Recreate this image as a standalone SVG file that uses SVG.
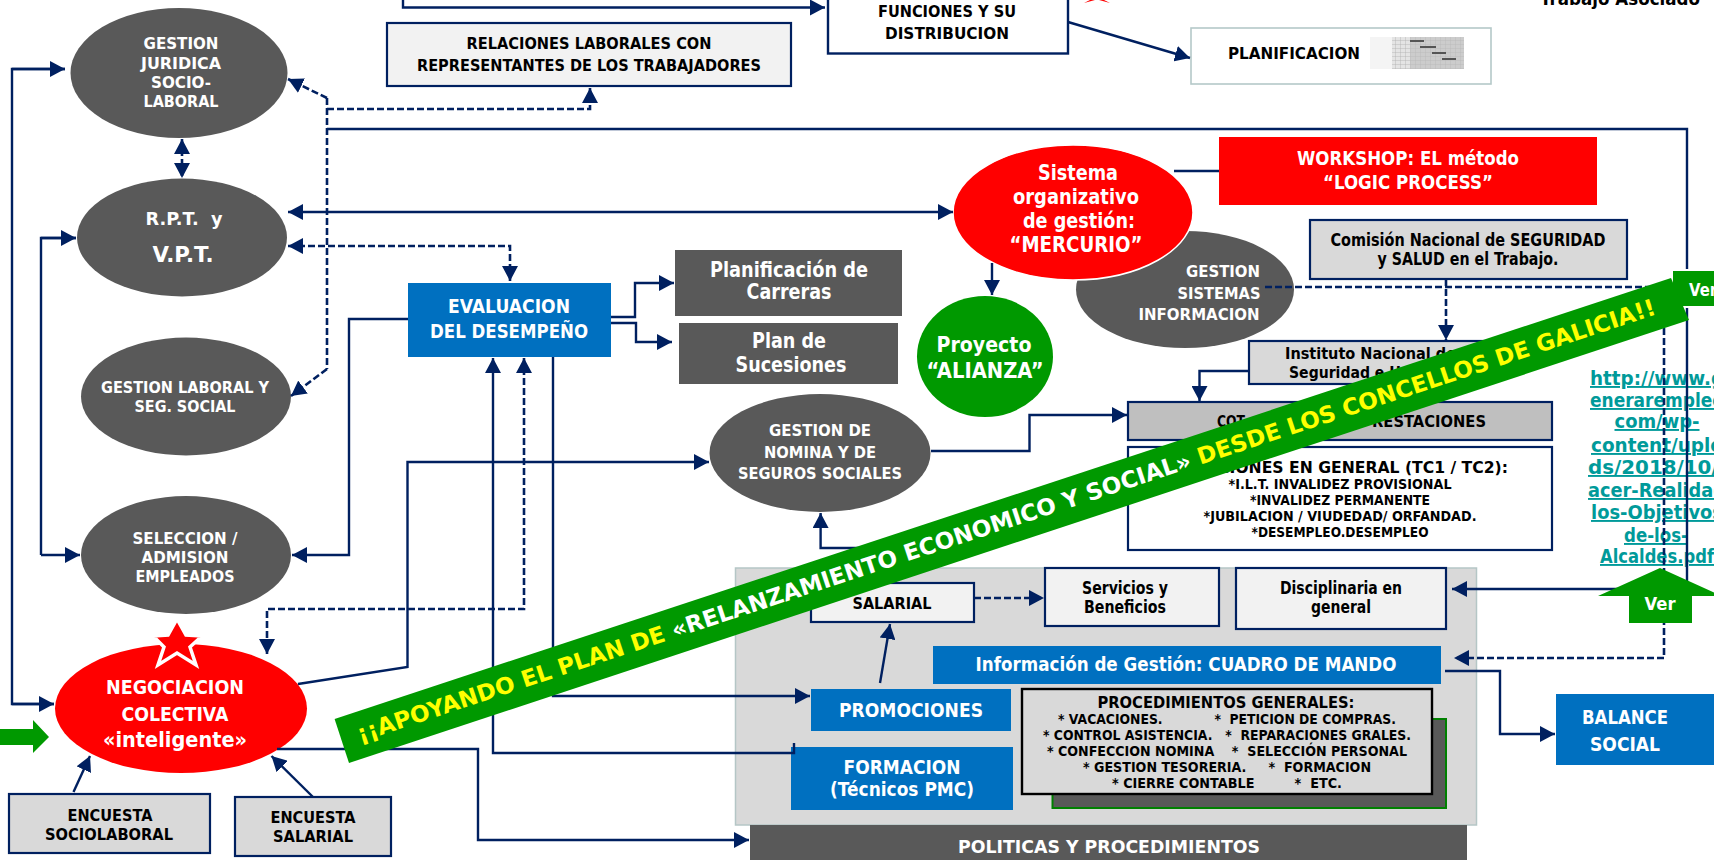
<svg xmlns="http://www.w3.org/2000/svg" width="1714" height="860" viewBox="0 0 1714 860">
<style>
text{font-family:"DejaVu Sans","Liberation Sans",sans-serif;font-weight:700;text-anchor:middle;white-space:pre}
.w{fill:#fff}.k{fill:#000}
.s14{font-size:14px}.s15{font-size:15px}.s16{font-size:16px}.s17{font-size:17px}.s18{font-size:18px}.s19{font-size:19px}.s20{font-size:20px}.s21{font-size:21px}.s22{font-size:22px}
.dk{fill:#595959}.red{fill:#f00}.blue{fill:#0070c0}.grn{fill:#090}
.lg{fill:#d9d9d9;stroke:#002060;stroke-width:2.2}
.wh{fill:#f2f2f2;stroke:#002060;stroke-width:2.2}
.c{fill:none;stroke:#002060;stroke-width:2.4}
.d{stroke-dasharray:7 3;stroke-width:2.6}
.e{marker-end:url(#ah)}
.b{marker-start:url(#ah);marker-end:url(#ah)}
.lk{fill:#009a9a;font-size:19px;text-decoration:underline}
</style>
<defs>
<marker id="ah" markerUnits="userSpaceOnUse" markerWidth="16" markerHeight="16" refX="15" refY="8" orient="auto-start-reverse"><path d="M0 0L15 8L0 16Z" fill="#002060"/></marker>
<pattern id="grid" width="5" height="4" patternUnits="userSpaceOnUse"><rect width="5" height="4" fill="#e4e4e4"/><path d="M0 0H5M0 0V4" stroke="#a8a8a8" stroke-width="0.7"/></pattern>
</defs>
<rect width="1714" height="860" fill="#fff"/>

<g id="panel"><rect x="735.5" y="568" width="741" height="257" fill="#d9d9d9" stroke="#b5c6c6" stroke-width="1.5"/></g>

<g id="gestion-juridica"><ellipse cx="179" cy="73" rx="108.5" ry="65" class="dk"/>
<text class="w s16" x="181" y="49" textLength="75" lengthAdjust="spacingAndGlyphs">GESTION</text>
<text class="w s16" x="181" y="69" textLength="80" lengthAdjust="spacingAndGlyphs">JURIDICA</text>
<text class="w s16" x="181" y="88" textLength="60" lengthAdjust="spacingAndGlyphs">SOCIO-</text>
<text class="w s16" x="181" y="107" textLength="75" lengthAdjust="spacingAndGlyphs">LABORAL</text></g>

<g id="relaciones"><rect x="387" y="23" width="404" height="63" class="wh"/>
<text class="k s16" x="589" y="49" textLength="245" lengthAdjust="spacingAndGlyphs">RELACIONES LABORALES CON</text>
<text class="k s16" x="589" y="71" textLength="344" lengthAdjust="spacingAndGlyphs">REPRESENTANTES DE LOS TRABAJADORES</text></g>

<g id="funciones"><rect x="828" y="-20" width="240" height="73.5" fill="#fff" stroke="#002060" stroke-width="2.4"/>
<text class="k s16" x="947" y="17" textLength="138" lengthAdjust="spacingAndGlyphs">FUNCIONES Y SU</text>
<text class="k s16" x="947" y="39" textLength="124" lengthAdjust="spacingAndGlyphs">DISTRIBUCION</text></g>

<g id="estrella-superior"><polygon points="1084,3 1090,0 1095,0" class="red"/><polygon points="1110,3 1104,0 1099,0" class="red"/></g>

<g id="trabajo-asociado"><text class="k s18" x="1620" y="5" textLength="160" lengthAdjust="spacingAndGlyphs">Trabajo Asociado</text></g>

<g id="planificacion"><rect x="1191" y="28" width="300" height="56" fill="#fff" stroke="#b5c9c9" stroke-width="1.6"/>
<text class="k s16" x="1294" y="59" textLength="132" lengthAdjust="spacingAndGlyphs">PLANIFICACION</text>
<rect x="1370" y="37" width="94" height="32" fill="url(#grid)"/><rect x="1370" y="37" width="22" height="32" fill="#f4f4f4"/><rect x="1410" y="37" width="54" height="32" fill="#bdbdbd" opacity=".6"/>
<path d="M1410 41H1424M1420 47H1436M1432 53H1446M1442 59H1456" stroke="#555" stroke-width="2"/></g>

<g id="rpt"><ellipse cx="182" cy="237.5" rx="105" ry="59" class="dk"/>
<text class="w s18" x="184" y="225" textLength="77" lengthAdjust="spacingAndGlyphs">R.P.T.  y</text>
<text class="w s21" x="183" y="262" textLength="61" lengthAdjust="spacingAndGlyphs">V.P.T.</text></g>

<g id="evaluacion"><rect x="408" y="283" width="203" height="74" class="blue"/>
<text class="w s20" x="509" y="313" textLength="122" lengthAdjust="spacingAndGlyphs">EVALUACION</text>
<text class="w s20" x="509" y="338" textLength="158" lengthAdjust="spacingAndGlyphs">DEL DESEMPEÑO</text></g>

<g id="carreras"><rect x="675" y="250" width="227" height="66" class="dk"/>
<text class="w s21" x="789" y="277" textLength="158" lengthAdjust="spacingAndGlyphs">Planificación de</text>
<text class="w s21" x="789" y="299" textLength="85" lengthAdjust="spacingAndGlyphs">Carreras</text></g>

<g id="sucesiones"><rect x="679" y="323" width="219" height="61" class="dk"/>
<text class="w s21" x="789" y="348" textLength="74" lengthAdjust="spacingAndGlyphs">Plan de</text>
<text class="w s21" x="791" y="372" textLength="111" lengthAdjust="spacingAndGlyphs">Sucesiones</text></g>

<g id="gestion-laboral"><ellipse cx="186" cy="396.5" rx="105" ry="59" class="dk"/>
<text class="w s16" x="185" y="393" textLength="168" lengthAdjust="spacingAndGlyphs">GESTION LABORAL Y</text>
<text class="w s16" x="185" y="412" textLength="101" lengthAdjust="spacingAndGlyphs">SEG. SOCIAL</text></g>

<g id="seleccion"><ellipse cx="186" cy="555" rx="105" ry="59" class="dk"/>
<text class="w s16" x="185" y="544" textLength="105" lengthAdjust="spacingAndGlyphs">SELECCION /</text>
<text class="w s16" x="185" y="563" textLength="87" lengthAdjust="spacingAndGlyphs">ADMISION</text>
<text class="w s16" x="185" y="582" textLength="99" lengthAdjust="spacingAndGlyphs">EMPLEADOS</text></g>

<g id="negociacion"><ellipse cx="181" cy="708.5" rx="126" ry="64.5" class="red"/>
<polygon points="177,619 186,635 202,636 190,647 196,665 177,653 158,665 164,647 153,636 168,635" class="red" stroke="#fff" stroke-width="3.5" stroke-miterlimit="10"/>
<text class="w s20" x="175" y="694" textLength="138" lengthAdjust="spacingAndGlyphs">NEGOCIACION</text>
<text class="w s20" x="175" y="721" textLength="107" lengthAdjust="spacingAndGlyphs">COLECTIVA</text>
<text class="w s21" x="175" y="747" textLength="144" lengthAdjust="spacingAndGlyphs">«inteligente»</text></g>

<g id="flecha-verde"><polygon points="0,729 33,729 33,720 49,737 33,753 33,745 0,745" class="grn"/></g>

<g id="encuesta-socio"><rect x="9" y="794" width="201" height="59" class="lg"/>
<text class="k s16" x="110" y="821" textLength="85" lengthAdjust="spacingAndGlyphs">ENCUESTA</text>
<text class="k s16" x="109" y="840" textLength="128" lengthAdjust="spacingAndGlyphs">SOCIOLABORAL</text></g>

<g id="encuesta-salarial"><rect x="235" y="797" width="156" height="59" class="lg"/>
<text class="k s16" x="313" y="823" textLength="85" lengthAdjust="spacingAndGlyphs">ENCUESTA</text>
<text class="k s16" x="313" y="842" textLength="80" lengthAdjust="spacingAndGlyphs">SALARIAL</text></g>

<g id="nomina"><ellipse cx="820" cy="453" rx="110.5" ry="59" class="dk"/>
<text class="w s16" x="820" y="436" textLength="102" lengthAdjust="spacingAndGlyphs">GESTION DE</text>
<text class="w s16" x="820" y="458" textLength="112" lengthAdjust="spacingAndGlyphs">NOMINA Y DE</text>
<text class="w s16" x="820" y="479" textLength="164" lengthAdjust="spacingAndGlyphs">SEGUROS SOCIALES</text></g>

<g id="gestion-sistemas"><ellipse cx="1185" cy="289.5" rx="109" ry="58.5" class="dk"/>
<text class="w s16" x="1223" y="277" textLength="74" lengthAdjust="spacingAndGlyphs">GESTION</text>
<text class="w s16" x="1219" y="299" textLength="83" lengthAdjust="spacingAndGlyphs">SISTEMAS</text>
<text class="w s16" x="1199" y="320" textLength="121" lengthAdjust="spacingAndGlyphs">INFORMACION</text></g>

<g id="mercurio"><ellipse cx="1073" cy="212.5" rx="120" ry="67.5" class="red" stroke="#fff" stroke-width="1.5"/>
<text class="w s22" x="1078" y="180" textLength="80" lengthAdjust="spacingAndGlyphs">Sistema</text>
<text class="w s22" x="1076" y="204" textLength="126" lengthAdjust="spacingAndGlyphs">organizativo</text>
<text class="w s22" x="1079" y="228" textLength="112" lengthAdjust="spacingAndGlyphs">de gestión:</text>
<text class="w s22" x="1076" y="252" textLength="133" lengthAdjust="spacingAndGlyphs">“MERCURIO”</text></g>

<g id="alianza"><ellipse cx="985" cy="356.5" rx="68" ry="60.5" class="grn"/>
<text class="w s22" x="984" y="352" textLength="95" lengthAdjust="spacingAndGlyphs">Proyecto</text>
<text class="w s22" x="985" y="378" textLength="117" lengthAdjust="spacingAndGlyphs">“ALIANZA”</text></g>

<g id="workshop"><rect x="1219" y="137" width="378" height="68" class="red"/>
<text class="w s20" x="1408" y="165" textLength="222" lengthAdjust="spacingAndGlyphs">WORKSHOP: EL método</text>
<text class="w s20" x="1408" y="189" textLength="170" lengthAdjust="spacingAndGlyphs">“LOGIC PROCESS”</text></g>

<g id="comision"><rect x="1310" y="220" width="317" height="59" class="lg"/>
<text class="k s17" x="1468" y="246" textLength="275" lengthAdjust="spacingAndGlyphs">Comisión Nacional de SEGURIDAD</text>
<text class="k s17" x="1468" y="265" textLength="181" lengthAdjust="spacingAndGlyphs">y SALUD en el Trabajo.</text></g>

<g id="instituto"><rect x="1249" y="341" width="239" height="43" class="lg"/>
<text class="k s16" x="1370.5" y="359" textLength="171" lengthAdjust="spacingAndGlyphs">Instituto Nacional de</text>
<text class="k s16" x="1345" y="378" textLength="112" lengthAdjust="spacingAndGlyphs">Seguridad e H</text></g>

<g id="cotizaciones"><rect x="1128" y="402" width="424" height="38" fill="#bfbfbf" stroke="#002060" stroke-width="2.2"/>
<text class="k s16" x="1231" y="427" textLength="28" lengthAdjust="spacingAndGlyphs">COT</text>
<text class="k s16" x="1429" y="427" textLength="114" lengthAdjust="spacingAndGlyphs">RESTACIONES</text></g>

<g id="prestaciones"><rect x="1128" y="447" width="424" height="103" fill="#fff" stroke="#002060" stroke-width="2.2"/>
<text class="k s16" x="1363" y="473" textLength="290" lengthAdjust="spacingAndGlyphs">CIONES EN GENERAL (TC1 / TC2):</text>
<text class="k s14" x="1340" y="489" textLength="223" lengthAdjust="spacingAndGlyphs">*I.L.T. INVALIDEZ PROVISIONAL</text>
<text class="k s14" x="1340" y="505" textLength="180" lengthAdjust="spacingAndGlyphs">*INVALIDEZ PERMANENTE</text>
<text class="k s14" x="1340" y="521" textLength="273" lengthAdjust="spacingAndGlyphs">*JUBILACION / VIUDEDAD/ ORFANDAD.</text>
<text class="k s14" x="1340" y="537" textLength="177" lengthAdjust="spacingAndGlyphs">*DESEMPLEO.DESEMPLEO</text></g>

<g id="enlace">
<text class="lk" x="1657" y="385" textLength="134" lengthAdjust="spacingAndGlyphs">http://www.g</text>
<text class="lk" x="1657" y="407" textLength="134" lengthAdjust="spacingAndGlyphs">enerarempleo</text>
<text class="lk" x="1657" y="428" textLength="85" lengthAdjust="spacingAndGlyphs">com/wp-</text>
<text class="lk" x="1657" y="452" textLength="132" lengthAdjust="spacingAndGlyphs">content/uplo</text>
<text class="lk" x="1657" y="474" textLength="138" lengthAdjust="spacingAndGlyphs">ds/2018/10/I</text>
<text class="lk" x="1657" y="497" textLength="138" lengthAdjust="spacingAndGlyphs">acer-Realidad</text>
<text class="lk" x="1657" y="519" textLength="132" lengthAdjust="spacingAndGlyphs">los-Objetivos</text>
<text class="lk" x="1656" y="542" textLength="64" lengthAdjust="spacingAndGlyphs">de-los-</text>
<text class="lk" x="1657" y="563" textLength="114" lengthAdjust="spacingAndGlyphs">Alcaldes.pdf</text></g>

<g id="salarial"><rect x="811" y="583" width="163" height="39" class="wh"/>
<text class="k s16" x="892" y="609" textLength="79" lengthAdjust="spacingAndGlyphs">SALARIAL</text></g>

<g id="servicios"><rect x="1045" y="568" width="174" height="58" class="wh"/>
<text class="k s17" x="1125" y="594" textLength="86" lengthAdjust="spacingAndGlyphs">Servicios y</text>
<text class="k s17" x="1125" y="613" textLength="82" lengthAdjust="spacingAndGlyphs">Beneficios</text></g>

<g id="disciplinaria"><rect x="1236" y="568" width="210" height="61" class="wh"/>
<text class="k s17" x="1341" y="594" textLength="122" lengthAdjust="spacingAndGlyphs">Disciplinaria en</text>
<text class="k s17" x="1341" y="613" textLength="60" lengthAdjust="spacingAndGlyphs">general</text></g>

<g id="cuadro"><rect x="933" y="646" width="508" height="38" class="blue"/>
<text class="w s19" x="1186" y="671" textLength="421" lengthAdjust="spacingAndGlyphs">Información de Gestión: CUADRO DE MANDO</text></g>

<g id="promociones"><rect x="811" y="689" width="200" height="42" class="blue"/>
<text class="w s19" x="911" y="717" textLength="144" lengthAdjust="spacingAndGlyphs">PROMOCIONES</text></g>

<g id="formacion"><rect x="791" y="747" width="222" height="63" class="blue"/>
<text class="w s19" x="902" y="774" textLength="117" lengthAdjust="spacingAndGlyphs">FORMACION</text>
<text class="w s19" x="902" y="796" textLength="144" lengthAdjust="spacingAndGlyphs">(Técnicos PMC)</text></g>

<g id="procedimientos"><rect x="1052.5" y="719" width="393.5" height="89" fill="#595959" stroke="#008000" stroke-width="2"/>
<rect x="1022" y="689" width="410" height="105" fill="#d9d9d9" stroke="#000" stroke-width="2.4"/>
<text class="k s16" x="1226" y="708" textLength="257" lengthAdjust="spacingAndGlyphs">PROCEDIMIENTOS GENERALES:</text>
<text class="k s14" x="1227" y="724" textLength="338" lengthAdjust="spacingAndGlyphs">* VACACIONES.            *  PETICION DE COMPRAS.</text>
<text class="k s14" x="1227" y="740" textLength="368" lengthAdjust="spacingAndGlyphs">* CONTROL ASISTENCIA.   *  REPARACIONES GRALES.</text>
<text class="k s14" x="1227" y="756" textLength="360" lengthAdjust="spacingAndGlyphs">* CONFECCION NOMINA    *  SELECCIÓN PERSONAL</text>
<text class="k s14" x="1227" y="772" textLength="288" lengthAdjust="spacingAndGlyphs">* GESTION TESORERIA.     *  FORMACION</text>
<text class="k s14" x="1227" y="788" textLength="230" lengthAdjust="spacingAndGlyphs">* CIERRE CONTABLE         *  ETC.</text></g>

<g id="politicas"><rect x="750" y="825" width="717" height="35" class="dk"/>
<text class="w s18" x="1109" y="853" textLength="302" lengthAdjust="spacingAndGlyphs">POLITICAS Y PROCEDIMIENTOS</text></g>

<g id="balance"><rect x="1556" y="694" width="158" height="71" class="blue"/>
<text class="w s19" x="1625" y="724" textLength="86" lengthAdjust="spacingAndGlyphs">BALANCE</text>
<text class="w s19" x="1625" y="751" textLength="70" lengthAdjust="spacingAndGlyphs">SOCIAL</text></g>

<g id="connectors">
<path class="c e" d="M403 0V7.5H825"/>
<path class="c e" d="M1068 22L1190 58"/>
<path class="c d e" d="M327 109H590V88"/>
<path class="c d" d="M327 98V369"/>
<path class="c d e" d="M327 98L288 79"/>
<path class="c d e" d="M327 369L291 396"/>
<path class="c e" d="M327 129H1687V589H1452"/>
<path class="c d b" d="M182 139V178"/>
<path class="c b" d="M288 212H953"/>
<path class="c d b" d="M288 246H510V281"/>
<path class="c" d="M65 69H12V704H54"/>
<path class="c e" d="M12 69H65"/>
<path class="c e" d="M12 704H54"/>
<path class="c" d="M76 238H41V555"/>
<path class="c e" d="M41 238H76"/>
<path class="c e" d="M41 555H80"/>
<path class="c e" d="M408 319H349V555H292"/>
<path class="c e" d="M611 317H635V283H674"/>
<path class="c e" d="M611 323H636V342H672"/>
<path class="c e" d="M794 743V753H493V358"/>
<path class="c d b" d="M524 358V609H267V654"/>
<path class="c e" d="M553 357V696H810"/>
<path class="c e" d="M298 684L407.5 667V462H709"/>
<path class="c e" d="M880 548H820.6V513"/>
<path class="c e" d="M73.5 792L90 756"/>
<path class="c e" d="M313 797L271.5 756"/>
<path class="c e" d="M277 749H478V840H749"/>
<path class="c d e" d="M974 598H1044"/>
<path class="c e" d="M880 683L890 624"/>
<path class="c d e" d="M1265 287H1664V658H1454"/>
<path class="c d e" d="M1446 279V340"/>
<path class="c e" d="M1445 671H1500V734H1555"/>
<path class="c" d="M1174 171H1219"/>
<path class="c e" d="M992 263V295"/>
<path class="c e" d="M1249 371H1199.5V401"/>
<path class="c e" d="M931 451H1029.5V415H1127"/>
</g>

<g id="ver-arriba"><polygon points="1660,568 1722,596 1692,596 1692,623 1629,623 1629,596 1598,596" class="grn"/>
<text class="w s18" x="1660" y="610" textLength="31" lengthAdjust="spacingAndGlyphs">Ver</text></g>

<g id="ver-derecha"><rect x="1672" y="270" width="50" height="37" class="grn" stroke="#fff" stroke-width="2"/>
<text class="w s18" x="1703" y="296" textLength="28" lengthAdjust="spacingAndGlyphs">Ver</text></g>

<g id="banner"><polygon points="334.6,719 1671,278 1689,320 349,763" class="grn"/>
<text x="360" y="742" transform="rotate(-18.26 360 742)" style="text-anchor:start;fill:#ff0;font-size:23px" textLength="1366" lengthAdjust="spacingAndGlyphs">¡¡APOYANDO EL PLAN DE <tspan fill="#fff">«RELANZAMIENTO ECONOMICO Y SOCIAL»</tspan> DESDE LOS CONCELLOS DE GALICIA!!</text></g>
</svg>
